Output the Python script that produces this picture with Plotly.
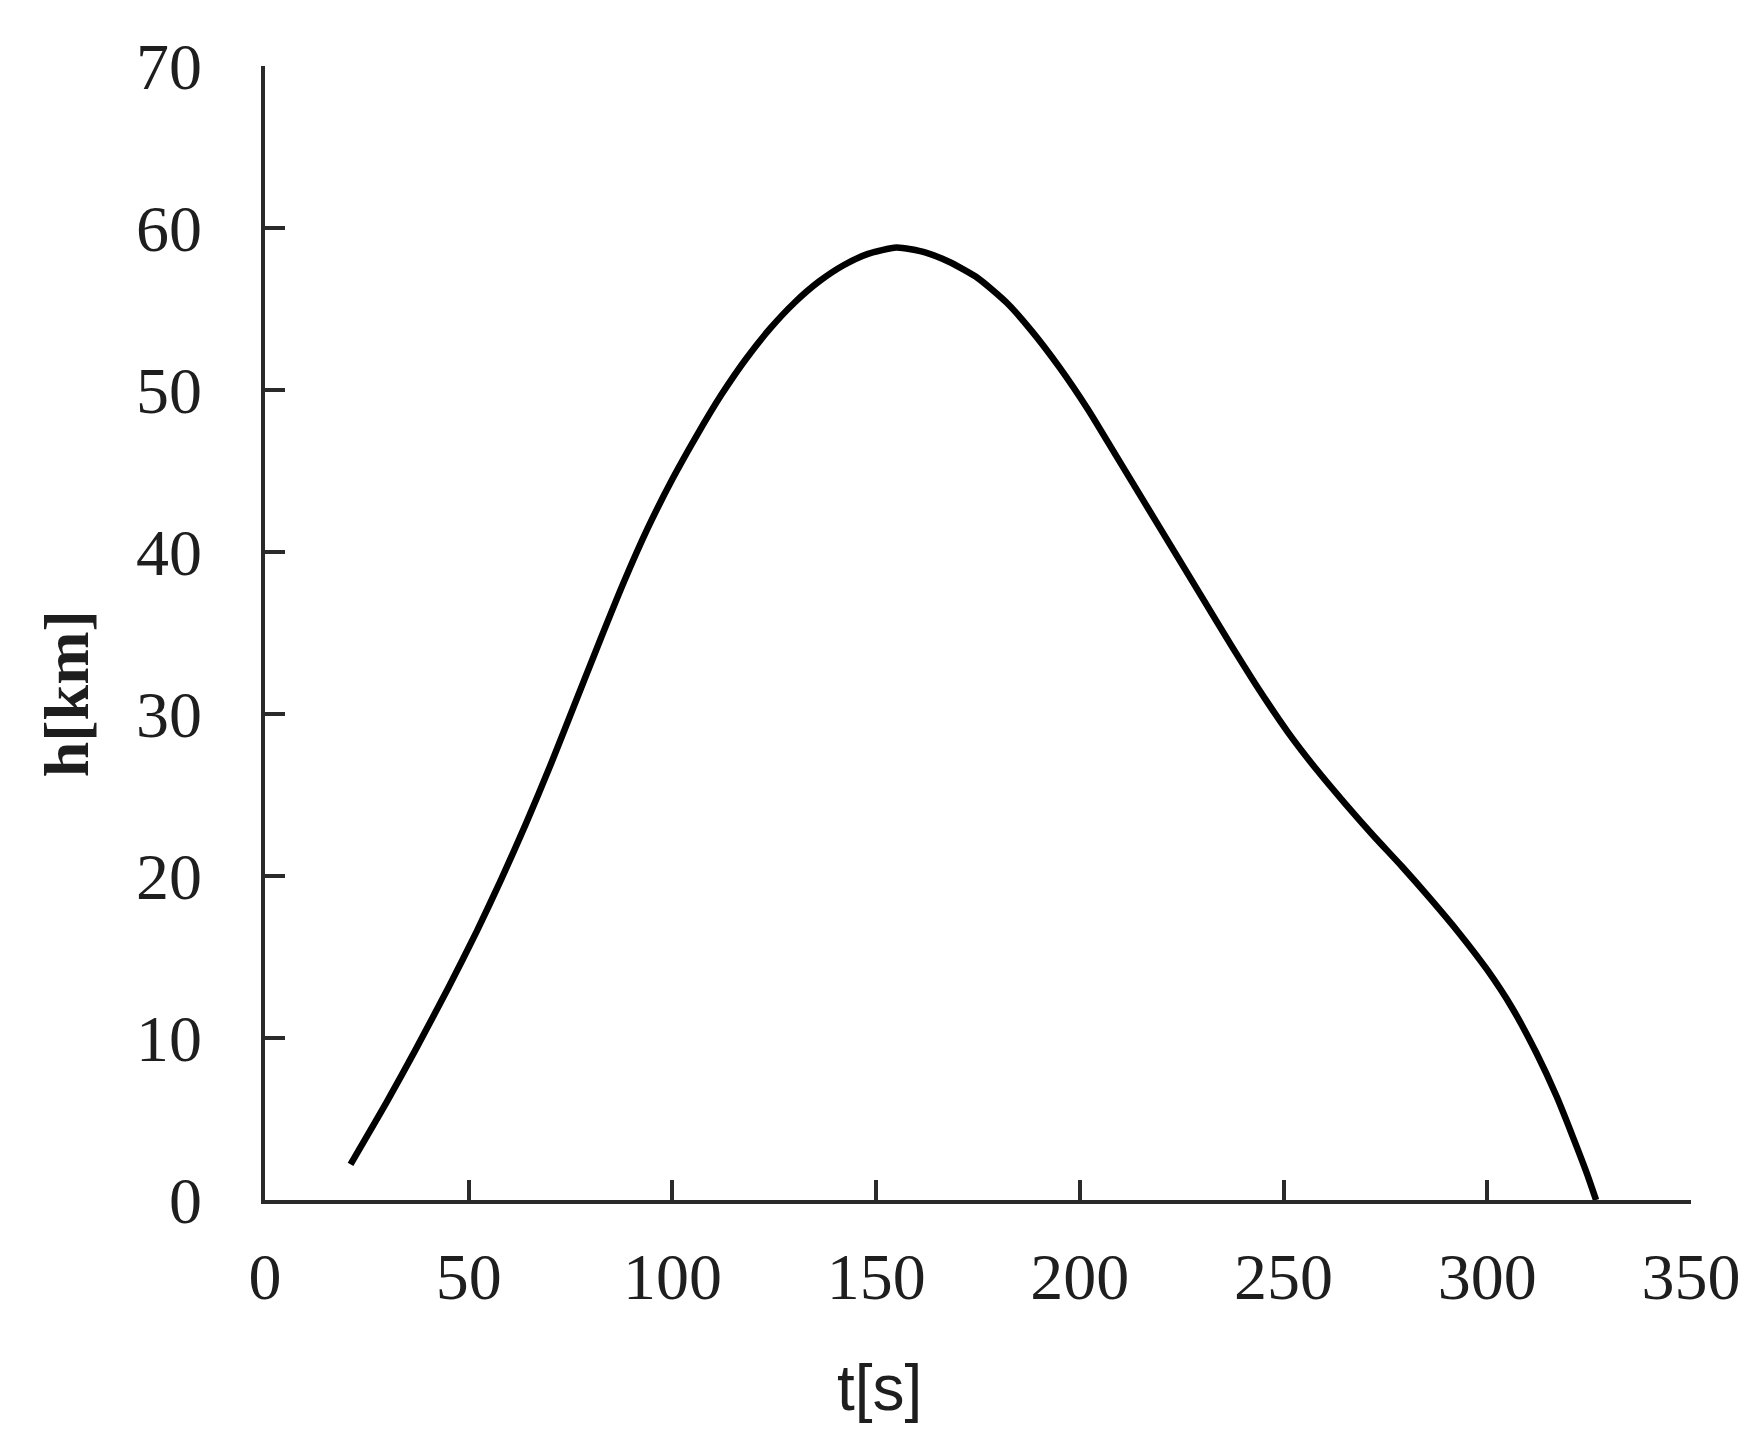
import plotly.graph_objects as go

# time [s]
t_values = [21, 30, 37, 45, 52, 58, 64, 70, 76, 82,
            88, 94, 100, 106, 112, 118, 124, 130, 136, 142,
            148, 155, 162, 168, 175, 182, 188, 195, 202, 209,
            216, 223, 230, 237, 244, 251, 258, 265, 272, 279,
            286, 293, 300, 306, 312, 317, 321, 324.5, 326.7]
# altitude [km]
h_values = [2.2, 6.1, 9.3, 13.1, 16.6, 19.8, 23.2, 26.8, 30.6, 34.4,
            38.1, 41.5, 44.5, 47.2, 49.7, 51.9, 53.8, 55.4, 56.7, 57.7,
            58.4, 58.8, 58.5, 57.9, 56.9, 55.4, 53.7, 51.4, 48.8, 45.9,
            43.0, 40.1, 37.2, 34.3, 31.5, 28.9, 26.6, 24.5, 22.5, 20.6,
            18.6, 16.5, 14.2, 11.9, 9.1, 6.4, 3.9, 1.6, 0.0]

x_ticks = [0, 50, 100, 150, 200, 250, 300, 350]
y_ticks = [0, 10, 20, 30, 40, 50, 60, 70]
x_title = "t[s]"
y_title = "h[km]"

fig = go.Figure()
fig.add_trace(go.Scatter(
    x=t_values, y=h_values, mode="lines",
    line=dict(color="black", width=6.5, shape="spline", smoothing=0.6),
    showlegend=False, hoverinfo="skip",
))

tick_font = dict(family="Liberation Serif, Times New Roman, serif", size=66, color="#1e1e1e")
axis_common = dict(
    showline=True, linecolor="#2a2a2a", linewidth=3.5,
    ticks="inside", ticklen=20, tickwidth=3.5, tickcolor="#2a2a2a",
    showgrid=False, zeroline=False, tickfont=tick_font,
)

fig.update_layout(
    width=1763, height=1440,
    margin=dict(l=257, r=80, t=58, b=248),
    paper_bgcolor="white", plot_bgcolor="white",
    xaxis=dict(range=[0, 350], tickvals=x_ticks, ticktext=[str(v) for v in x_ticks],
               ticklabelstandoff=16, **axis_common),
    yaxis=dict(range=[0, 70], tickvals=y_ticks, ticktext=[str(v) for v in y_ticks],
               ticklabelstandoff=46, **axis_common),
    annotations=[
        dict(text=x_title, xref="paper", yref="paper", x=0.4306, y=-0.1658,
             xanchor="center", yanchor="middle", showarrow=False,
             font=dict(family="Liberation Sans, Arial, sans-serif", size=64, color="#1e1e1e")),
        dict(text="<b>" + y_title + "</b>", xref="paper", yref="paper", x=-0.1395, y=0.446,
             xanchor="center", yanchor="middle", showarrow=False, textangle=-90,
             font=dict(family="Liberation Serif, Times New Roman, serif", size=64, color="#1e1e1e")),
    ],
)

fig.write_html("out.html")
